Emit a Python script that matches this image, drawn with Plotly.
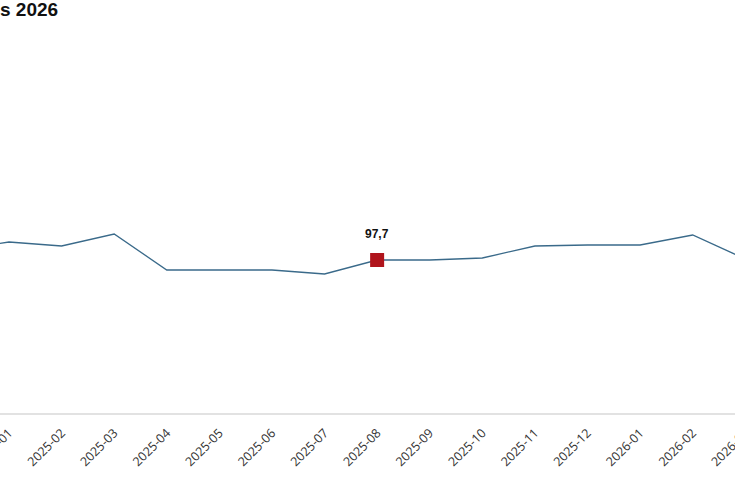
import plotly.graph_objects as go

# Monthly index values
months = ["2024-12", "2025-01", "2025-02", "2025-03", "2025-04", "2025-05",
          "2025-06", "2025-07", "2025-08", "2025-09", "2025-10", "2025-11",
          "2025-12", "2026-01", "2026-02", "2026-03"]
values = [98.2, 98.6, 98.4, 99.0, 97.2, 97.2,
          97.2, 97.0, 97.7, 97.7, 97.8, 98.4,
          98.45, 98.45, 98.95, 97.75]

# Highlighted month
hl_month = "2025-08"
hl_value = values[months.index(hl_month)]

fig = go.Figure()

# Main line
fig.add_trace(go.Scatter(
    x=months, y=values, mode="lines",
    line=dict(color="#3a6a8a", width=1.3),
    hoverinfo="x+y", showlegend=False,
))

# Highlighted point
fig.add_trace(go.Scatter(
    x=[hl_month], y=[hl_value], mode="markers",
    marker=dict(symbol="square", size=14, color="#b0141c"),
    showlegend=False,
))

# Value label above the highlighted point
fig.add_annotation(
    x=hl_month, y=hl_value, text="<b>" + f"{hl_value:.1f}".replace(".", ",") + "</b>",
    showarrow=False, yshift=26,
    font=dict(family="Liberation Sans, Arial", size=12, color="#111111"),
)

# figure is a bit wider than the window, the right edge gets cropped like the original
fig.update_layout(
    width=760, height=490,
    title=dict(
        text="<b>s 2026</b>",
        x=0, xanchor="left", xref="container",
        y=0.98, yanchor="middle", yref="container",
        font=dict(family="Liberation Sans, Arial", size=19, color="#111111"),
    ),
    plot_bgcolor="white",
    paper_bgcolor="white",
    margin=dict(l=0, r=0, t=40, b=77, pad=0),
    xaxis=dict(
        type="category",
        range=[0.829, 15.28],
        automargin=False,
        showgrid=False,
        showline=True, linecolor="#e2e2e2", linewidth=1.5,
        ticks="", tickangle=-45, ticklabelstandoff=6,
        tickfont=dict(family="Open Sans", size=12.5, color="#333333"),
    ),
    yaxis=dict(
        range=[90.05, 108.7],
        automargin=False,
        showgrid=False, zeroline=False, showline=False,
        showticklabels=False,
    ),
)

# drop the page's default body margin so the chart fills the window
fig.write_html(
    "out.html",
    config={"displayModeBar": False},
    post_script="document.body.style.margin='0';document.body.style.overflow='hidden';",
)
